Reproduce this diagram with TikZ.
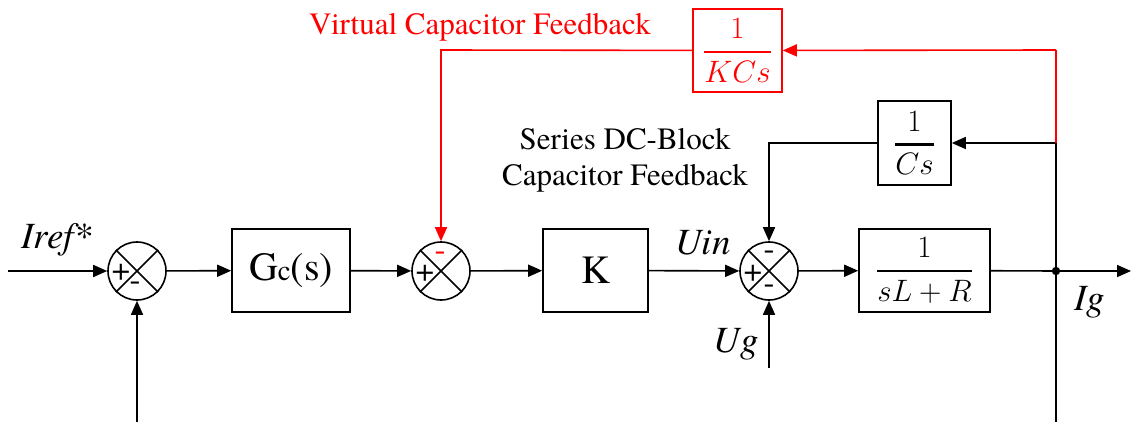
\RequirePackage{fix-cm}
\documentclass[tikz,border=0pt]{standalone}
\usepackage{amsmath}
\usepackage{fontspec}
\setmainfont{texgyretermes}[
  Extension=.otf,
  UprightFont=*-regular,
  ItalicFont=*-italic,
  BoldFont=*-bold,
  BoldItalicFont=*-bolditalic]
\usetikzlibrary{arrows.meta}
\newcommand{\tf}[2]{\genfrac{}{}{2.6pt}{0}{#1}{#2}}
\tikzset{
  x=1pt, y=-1pt,
  wire/.style={line width=1.6pt},
  tip/.style={wire, -{Triangle[length=14pt,width=12pt]}},
  block/.style={draw, line width=1.6pt, inner sep=0pt},
  sumnode/.style={draw, circle, line width=1.6pt, minimum size=58pt, inner sep=0pt},
  sign/.style={inner sep=0pt, font=\fontsize{33}{33}\selectfont},
  lbl/.style={inner sep=0pt, font=\fontsize{37}{37}\selectfont\itshape},
  note/.style={inner sep=0pt, align=center, font=\fontsize{31}{36}\selectfont},
  frac/.style={font=\fontsize{31}{34}\selectfont}
}
\begin{document}
\begin{tikzpicture}
\useasboundingbox (0,0) rectangle (1131,422);

% summing junctions
\node[sumnode] (s1) at (137,271) {};
\node[sumnode] (s2) at (441,271) {};
\node[sumnode] (s3) at (769,271) {};
\foreach \s in {s1,s2,s3}{
  \draw[wire] (\s.north west) -- (\s.south east);
  \draw[wire] (\s.north east) -- (\s.south west);
}
\node[sign] (p1) at (121,272) {+};
\node[sign] (m1) at (135,286) {-};
\node[sign] (p2) at (425,273) {+};
\node[sign, red] (m2) at (440,256) {-};
\node[sign] (p3) at (753,273) {+};
\node[sign] (m3a) at (769,255) {-};
\node[sign] (m3b) at (769,289) {-};

% blocks
\node[block, minimum width=118pt, minimum height=83pt] (gc) at (291,270.5)
  {\fontsize{40}{40}\selectfont G\fontsize{29}{29}\selectfont c\fontsize{40}{40}\selectfont(s)};
\node[block, minimum width=105pt, minimum height=83pt] (k) at (595.5,270.5)
  {\fontsize{40}{40}\selectfont K};
\node[block, minimum width=131pt, minimum height=83pt, frac] (plant) at (924.5,270.5)
  {$\tf{1}{sL+R}$};
\node[block, minimum width=73pt, minimum height=84pt, frac] (cs) at (914.5,143)
  {$\tf{1}{Cs}$};
\node[block, red, minimum width=89pt, minimum height=83pt, frac] (kcs) at (737.5,50.5)
  {$\tf{1}{KCs}$};

% helper points
\coordinate (in) at (8,271);
\coordinate (out) at (1131,271);
\coordinate (jn) at (1056,271);
\coordinate (fbb) at (137,422);
\coordinate (jnb) at (1056,422);
\coordinate (ugs) at (769,368);
\coordinate (rtop) at (1056,50);
\coordinate (rmid) at (1056,143);
\coordinate (rleft) at (441,50);
\coordinate (csl) at (769,143);
\fill (jn) circle (4.2pt);

% forward path
\draw[tip] (in) -- (s1);
\draw[tip] (s1) -- (gc);
\draw[tip] (gc) -- (s2);
\draw[tip] (s2) -- (k);
\draw[tip] (k) -- (s3);
\draw[tip] (s3) -- (plant);
\draw[wire] (plant) -- (jn);
\draw[tip] (jn) -- (out);

% outer current feedback and grid voltage
\draw[tip] (fbb) -- (s1);
\draw[wire] (jnb) -- (rmid);
\draw[tip] (ugs) -- (s3);

% series DC-block capacitor feedback
\draw[tip] (rmid) -- (cs);
\draw[tip] (cs) -- (csl) -- (s3);

% virtual capacitor feedback
\draw[wire, red] (rmid) -- (rtop);
\draw[tip, red] (rtop) -- (kcs);
\draw[tip, red] (kcs) -- (rleft) -- (s2);

% labels
\node[lbl] (iref) at (57,240) {Iref*};
\node[lbl] (uin) at (703,243) {Uin};
\node[lbl] (ug) at (736,344) {Ug};
\node[lbl] (ig) at (1090,302) {Ig};
\node[note, red] (vcf) at (480,27) {Virtual Capacitor Feedback};
\node[note] (scf) at (625,160) {Series DC-Block\\Capacitor Feedback};
\end{tikzpicture}
\end{document}
